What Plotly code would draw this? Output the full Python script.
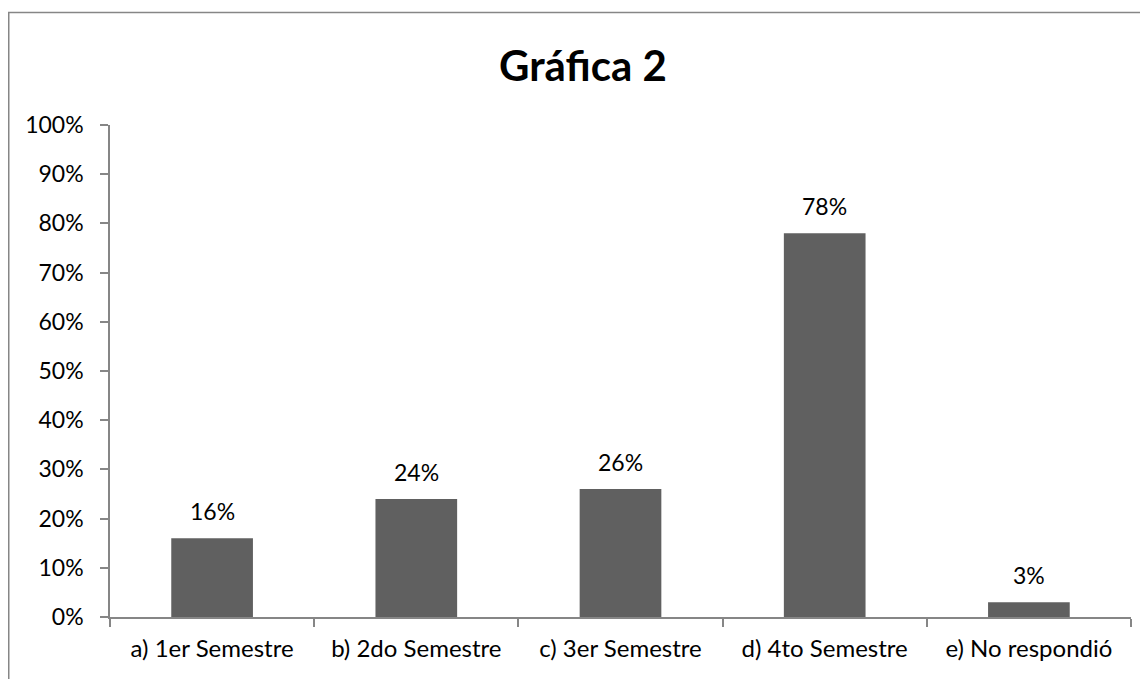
import plotly.graph_objects as go

categories = ["a) 1er Semestre", "b) 2do Semestre", "c) 3er Semestre", "d) 4to Semestre", "e) No respondió"]
values = [0.16, 0.24, 0.26, 0.78, 0.03]
value_labels = ["16%", "24%", "26%", "78%", "3%"]
y_ticks = [0, 0.1, 0.2, 0.3, 0.4, 0.5, 0.6, 0.7, 0.8, 0.9, 1.0]
y_tick_labels = ["0%", "10%", "20%", "30%", "40%", "50%", "60%", "70%", "80%", "90%", "100%"]

# page body has an 8px margin, so the figure is offset by 8px
W, H = 1140, 671
L, R, T, B = 102, 17, 117, 62
pw, ph = W - L - R, H - T - B

FONT = "Lato"
AXIS_COLOR = "#868686"

fig = go.Figure()
fig.add_trace(go.Bar(
    x=categories, y=values, width=0.4,
    marker=dict(color="#606060", line=dict(width=0)),
    hoverinfo="skip",
))

for c, v, t in zip(categories, values, value_labels):
    fig.add_annotation(x=c, y=v, text=t, showarrow=False, xref="x", yref="y",
                       yanchor="middle", yshift=27,
                       font=dict(family=FONT, size=23, color="#000000"))

def px_x(px):
    return (px - L) / pw

def px_y(py):
    return (H - B - py) / ph

# chart border (left and top visible)
fig.add_shape(type="rect", xref="paper", yref="paper",
              x0=px_x(0.75), x1=px_x(1300), y0=px_y(800), y1=px_y(4.5),
              line=dict(color=AXIS_COLOR, width=1.5), fillcolor="rgba(0,0,0,0)", layer="below")

fig.add_annotation(x=px_x(575), y=px_y(57), xref="paper", yref="paper", text="<b>Gráfica 2</b>",
                   showarrow=False, xanchor="center", yanchor="middle",
                   font=dict(family=FONT, size=42, color="#000000"))

fig.update_layout(
    width=W, height=H,
    margin=dict(l=L, r=R, t=T, b=B, autoexpand=False),
    paper_bgcolor="white", plot_bgcolor="white",
    showlegend=False,
    font=dict(family=FONT, size=23, color="#000000"),
    xaxis=dict(
        showline=True, linecolor=AXIS_COLOR, linewidth=1.5,
        ticks="outside", tickson="boundaries", ticklen=8, tickcolor=AXIS_COLOR, tickwidth=1.5,
        showgrid=False, zeroline=False, ticklabelstandoff=9,
        tickfont=dict(family=FONT, size=24, color="#000000"),
        range=[-0.5, 4.5],
    ),
    yaxis=dict(
        range=[0, 1.0], tickvals=y_ticks, ticktext=y_tick_labels,
        showline=True, linecolor=AXIS_COLOR, linewidth=1.5,
        ticks="outside", ticklen=8, tickcolor=AXIS_COLOR, tickwidth=1.5,
        showgrid=False, zeroline=False, ticklabelstandoff=12,
        tickfont=dict(family=FONT, size=23, color="#000000"),
    ),
)

fig.write_html("out.html")
